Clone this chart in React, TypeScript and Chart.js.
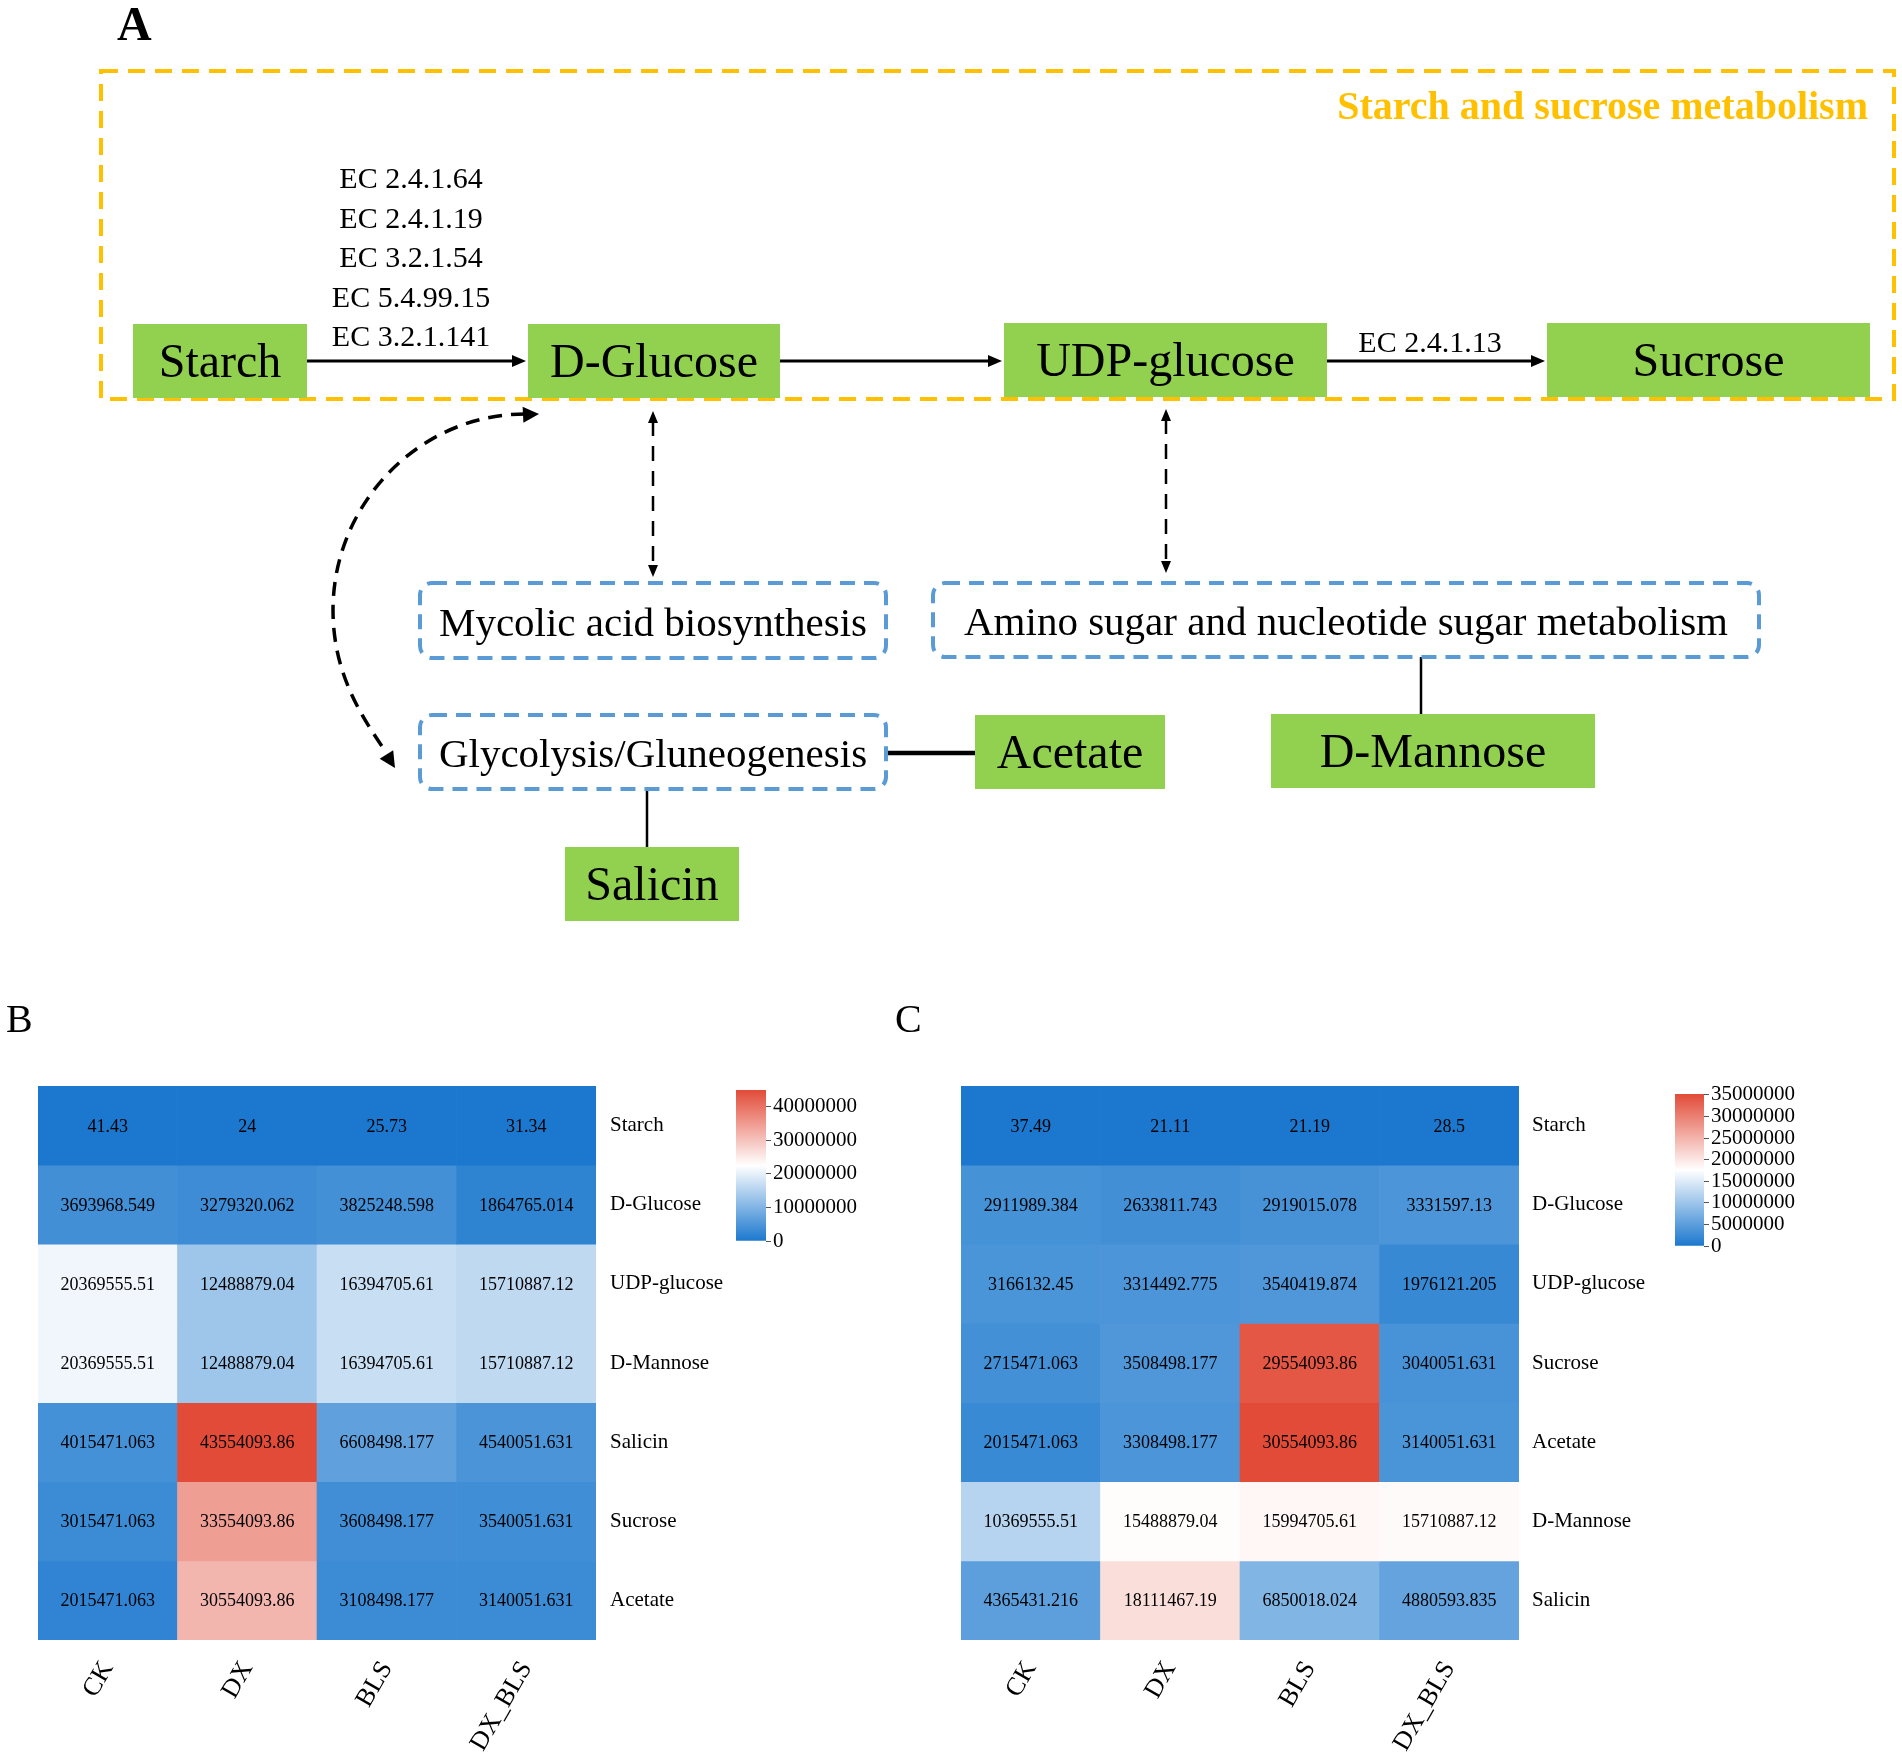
import React, { useEffect, useRef } from "react";
import { Chart, registerables } from "chart.js";

Chart.register(...registerables);

const SERIF = "'Liberation Serif', 'Times New Roman', serif";

// ---------------- Panel A: pathway content ----------------
const pathwayTitle = "Starch and sucrose metabolism";
const metabolites = ["Starch", "D-Glucose", "UDP-glucose", "Sucrose", "Acetate", "D-Mannose", "Salicin"];
const linkedPathways = [
  "Mycolic acid biosynthesis",
  "Amino sugar and nucleotide sugar metabolism",
  "Glycolysis/Gluneogenesis",
];
const starchToGlucoseEnzymes = ["EC 2.4.1.64", "EC 2.4.1.19", "EC 3.2.1.54", "EC 5.4.99.15", "EC 3.2.1.141"];
const udpToSucroseEnzymes = ["EC 2.4.1.13"];

// ---------------- Panels B and C: heatmap values ----------------
const groups = ["CK", "DX", "BLS", "DX_BLS"];

const rowsB = ["Starch", "D-Glucose", "UDP-glucose", "D-Mannose", "Salicin", "Sucrose", "Acetate"];
const starchB = [41.43, 24, 25.73, 31.34];
const glucoseB = [3693968.549, 3279320.062, 3825248.598, 1864765.014];
const udpGlucoseB = [20369555.51, 12488879.04, 16394705.61, 15710887.12];
const mannoseB = [20369555.51, 12488879.04, 16394705.61, 15710887.12];
const salicinB = [4015471.063, 43554093.86, 6608498.177, 4540051.631];
const sucroseB = [3015471.063, 33554093.86, 3608498.177, 3540051.631];
const acetateB = [2015471.063, 30554093.86, 3108498.177, 3140051.631];
const matrixB = [starchB, glucoseB, udpGlucoseB, mannoseB, salicinB, sucroseB, acetateB];

const rowsC = ["Starch", "D-Glucose", "UDP-glucose", "Sucrose", "Acetate", "D-Mannose", "Salicin"];
const starchC = [37.49, 21.11, 21.19, 28.5];
const glucoseC = [2911989.384, 2633811.743, 2919015.078, 3331597.13];
const udpGlucoseC = [3166132.45, 3314492.775, 3540419.874, 1976121.205];
const sucroseC = [2715471.063, 3508498.177, 29554093.86, 3040051.631];
const acetateC = [2015471.063, 3308498.177, 30554093.86, 3140051.631];
const mannoseC = [10369555.51, 15488879.04, 15994705.61, 15710887.12];
const salicinC = [4365431.216, 18111467.19, 6850018.024, 4880593.835];
const matrixC = [starchC, glucoseC, udpGlucoseC, sucroseC, acetateC, mannoseC, salicinC];

const legendTicksB = [0, 10000000, 20000000, 30000000, 40000000];
const legendTicksC = [0, 5000000, 10000000, 15000000, 20000000, 25000000, 30000000, 35000000];
const legendMaxB = 45000000;
const legendMaxC = 35200000;

// ---------------- styles / layout ----------------
const GREEN = "#92D050";
const ORANGE = "#FFC000";
const BLUE_BOX = "#5B9BD5";
const LOW = [27, 120, 206];
const MID = [255, 255, 255];
const HIGH = [226, 75, 56];

const PAGE_W = 1902;
const PAGE_H = 1759;
const A_H = 960;

const LAYOUT_A = {
  letter: { x: 117, y: 40 },
  frame: { x: 101, y: 71, w: 1793, h: 328 },
  title: { x: 1868, y: 119 },
  nodes: [
    [133, 324, 174, 74],
    [528, 324, 252, 74],
    [1004, 323, 323, 74],
    [1547, 323, 323, 74],
    [975, 715, 190, 74],
    [1271, 714, 324, 74],
    [565, 847, 174, 74],
  ],
  pathways: [
    [420, 583, 466, 75],
    [933, 583, 826, 74],
    [420, 715, 466, 74],
  ],
  ec1: { x: 411, y: 188, step: 39.5 },
  ec2: { x: 1430, y: 352 },
};

function mix(a: number[], b: number[], f: number) {
  return `rgb(${Math.round(a[0] + (b[0] - a[0]) * f)},${Math.round(a[1] + (b[1] - a[1]) * f)},${Math.round(
    a[2] + (b[2] - a[2]) * f
  )})`;
}
function heatColor(v: number, min: number, max: number) {
  const t = Math.max(0, Math.min(1, (v - min) / (max - min)));
  return t < 0.5 ? mix(LOW, MID, t / 0.5) : mix(MID, HIGH, (t - 0.5) / 0.5);
}

function arrowHead(ctx: CanvasRenderingContext2D, tx: number, ty: number, ang: number, len: number, half: number) {
  ctx.save();
  ctx.setLineDash([]);
  ctx.translate(tx, ty);
  ctx.rotate(ang);
  ctx.beginPath();
  ctx.moveTo(0, 0);
  ctx.lineTo(-len, -half);
  ctx.lineTo(-len, half);
  ctx.closePath();
  ctx.fill();
  ctx.restore();
}

function drawPathway(chart: any) {
  const { ctx } = chart;
  const sx = chart.scales.x;
  const sy = chart.scales.y;
  const X = (v: number) => sx.getPixelForValue(v);
  const Y = (v: number) => sy.getPixelForValue(v);
  const L = LAYOUT_A;
  ctx.save();

  // panel letter
  ctx.fillStyle = "#000";
  ctx.font = `bold 48px ${SERIF}`;
  ctx.textAlign = "left";
  ctx.textBaseline = "alphabetic";
  ctx.fillText("A", X(L.letter.x), Y(L.letter.y));

  // orange frame
  ctx.strokeStyle = ORANGE;
  ctx.lineWidth = 4;
  ctx.setLineDash([17, 10]);
  ctx.strokeRect(X(L.frame.x), Y(L.frame.y), X(L.frame.x + L.frame.w) - X(L.frame.x), Y(L.frame.y + L.frame.h) - Y(L.frame.y));
  ctx.setLineDash([]);
  ctx.fillStyle = ORANGE;
  ctx.font = `bold 40px ${SERIF}`;
  ctx.textAlign = "right";
  ctx.fillText(pathwayTitle, X(L.title.x), Y(L.title.y));

  // connections
  ctx.strokeStyle = "#000";
  ctx.fillStyle = "#000";
  const nb = L.nodes;
  const midY = (b: number[]) => b[1] + b[3] / 2;
  const solidArrow = (x0: number, x1: number, y: number) => {
    ctx.lineWidth = 3;
    ctx.setLineDash([]);
    ctx.beginPath();
    ctx.moveTo(X(x0), Y(y));
    ctx.lineTo(X(x1 - 10), Y(y));
    ctx.stroke();
    arrowHead(ctx, X(x1), Y(y), 0, 14, 6);
  };
  solidArrow(nb[0][0] + nb[0][2], nb[1][0] - 2, midY(nb[0]));
  solidArrow(nb[1][0] + nb[1][2], nb[2][0] - 2, midY(nb[1]));
  solidArrow(nb[2][0] + nb[2][2] - 2, nb[3][0] - 2, midY(nb[2]) + 1);

  // dashed double arrows
  const dashedDouble = (x: number, y0: number, y1: number) => {
    ctx.lineWidth = 2.5;
    ctx.setLineDash([15, 10]);
    ctx.beginPath();
    ctx.moveTo(X(x), Y(y0 + 10));
    ctx.lineTo(X(x), Y(y1 - 10));
    ctx.stroke();
    arrowHead(ctx, X(x), Y(y0), -Math.PI / 2, 12, 5);
    arrowHead(ctx, X(x), Y(y1), Math.PI / 2, 12, 5);
  };
  dashedDouble(653, 411, 577);
  dashedDouble(1166, 409, 573);

  // curved dashed arrow D-Glucose <-> Glycolysis
  ctx.lineWidth = 3.5;
  ctx.setLineDash([14, 9]);
  ctx.beginPath();
  ctx.moveTo(X(525), Y(414));
  ctx.bezierCurveTo(X(420), Y(414), X(333), Y(503), X(333), Y(610));
  ctx.bezierCurveTo(X(333), Y(670), X(358), Y(712), X(386), Y(752));
  ctx.stroke();
  arrowHead(ctx, X(539), Y(414), -0.05, 16, 8);
  arrowHead(ctx, X(395), Y(768), Math.atan2(60, 38), 16, 8);

  // solid links
  ctx.setLineDash([]);
  const pw = L.pathways;
  ctx.lineWidth = 4.5;
  ctx.beginPath();
  ctx.moveTo(X(pw[2][0] + pw[2][2]), Y(753));
  ctx.lineTo(X(nb[4][0]), Y(753));
  ctx.stroke();
  ctx.lineWidth = 2.5;
  ctx.beginPath();
  ctx.moveTo(X(647), Y(pw[2][1] + pw[2][3]));
  ctx.lineTo(X(647), Y(nb[6][1]));
  ctx.moveTo(X(1421), Y(pw[1][1] + pw[1][3]));
  ctx.lineTo(X(1421), Y(nb[5][1]));
  ctx.stroke();

  // linked pathway boxes (blue dashed)
  ctx.strokeStyle = BLUE_BOX;
  ctx.lineWidth = 4;
  ctx.setLineDash([15, 9]);
  linkedPathways.forEach((name, i) => {
    const b = pw[i];
    ctx.beginPath();
    (ctx as any).roundRect(X(b[0]), Y(b[1]), X(b[0] + b[2]) - X(b[0]), Y(b[1] + b[3]) - Y(b[1]), 12);
    ctx.stroke();
  });
  ctx.setLineDash([]);
  ctx.fillStyle = "#000";
  ctx.font = `41px ${SERIF}`;
  ctx.textAlign = "center";
  linkedPathways.forEach((name, i) => {
    const b = pw[i];
    ctx.fillText(name, X(b[0] + b[2] / 2), Y(b[1] + b[3] / 2 + 15));
  });

  // metabolite boxes
  metabolites.forEach((name, i) => {
    const b = nb[i];
    ctx.fillStyle = GREEN;
    ctx.fillRect(X(b[0]), Y(b[1]), X(b[0] + b[2]) - X(b[0]), Y(b[1] + b[3]) - Y(b[1]));
    ctx.fillStyle = "#000";
    ctx.font = `48px ${SERIF}`;
    ctx.fillText(name, X(b[0] + b[2] / 2), Y(b[1] + b[3] / 2 + 16));
  });

  // enzyme labels
  ctx.font = `30px ${SERIF}`;
  starchToGlucoseEnzymes.forEach((ec, i) => {
    ctx.fillText(ec, X(L.ec1.x), Y(L.ec1.y + i * L.ec1.step));
  });
  udpToSucroseEnzymes.forEach((ec) => ctx.fillText(ec, X(L.ec2.x), Y(L.ec2.y)));

  ctx.restore();
}

function pathwayConfig(): any {
  return {
    type: "scatter",
    data: { datasets: [] },
    options: {
      responsive: false,
      animation: false,
      devicePixelRatio: 1,
      events: [],
      layout: { padding: 0 },
      plugins: { legend: { display: false }, tooltip: { enabled: false } },
      scales: {
        x: { type: "linear", min: 0, max: PAGE_W, display: false },
        y: { type: "linear", min: 0, max: A_H, reverse: true, display: false },
      },
    },
    plugins: [{ id: "pathway", afterDraw: drawPathway }],
  };
}

const HM = {
  cellFont: 18,
  rowFont: 21,
  colFont: 26,
  yAxisW: 140,
  xAxisH: 115,
};

function heatmapConfig(rows: string[], matrix: number[][], letter: string, pad: { left: number; top: number }, letterX: number, rowPad: number): any {
  const flat = matrix.flat();
  const min = Math.min(...flat);
  const max = Math.max(...flat);
  return {
    type: "bar",
    data: {
      labels: groups,
      datasets: rows.map((r, i) => ({
        label: r,
        data: groups.map(() => [i, i + 1]),
        backgroundColor: matrix[i].map((v) => heatColor(v, min, max)),
        borderWidth: 0,
        borderSkipped: false,
        barPercentage: 1,
        categoryPercentage: 1,
        grouped: false,
      })),
    },
    options: {
      responsive: false,
      animation: false,
      devicePixelRatio: 1,
      events: [],
      layout: { padding: { left: pad.left, top: pad.top, right: 0, bottom: 0 } },
      plugins: { legend: { display: false }, tooltip: { enabled: false } },
      scales: {
        x: {
          type: "category",
          position: "bottom",
          grid: { display: false, drawTicks: false },
          border: { display: false },
          ticks: {
            font: { family: SERIF, size: HM.colFont },
            color: "#000",
            minRotation: 60,
            maxRotation: 60,
            padding: 16,
            autoSkip: false,
          },
          afterFit: (s: any) => {
            s.height = HM.xAxisH;
            s.paddingLeft = 0;
            s.paddingRight = 0;
          },
        },
        y: {
          type: "linear",
          position: "right",
          min: 0,
          max: rows.length,
          reverse: true,
          grid: { display: false, drawTicks: false },
          border: { display: false },
          ticks: {
            font: { family: SERIF, size: HM.rowFont },
            color: "#000",
            padding: rowPad,
            autoSkip: false,
            callback: (_v: any, i: number) => rows[i],
          },
          afterBuildTicks: (s: any) => {
            s.ticks = rows.map((_, i) => ({ value: i + 0.5 }));
          },
          afterFit: (s: any) => {
            s.width = HM.yAxisW;
            s.paddingTop = 0;
            s.paddingBottom = 0;
          },
        },
      },
    },
    plugins: [
      {
        id: "cellText",
        afterDatasetsDraw: (chart: any) => {
          const { ctx } = chart;
          const sx = chart.scales.x;
          const sy = chart.scales.y;
          ctx.save();
          ctx.fillStyle = "#000";
          ctx.font = `${HM.cellFont}px ${SERIF}`;
          ctx.textAlign = "center";
          ctx.textBaseline = "alphabetic";
          matrix.forEach((row, i) =>
            row.forEach((v, j) => {
              ctx.fillText(String(v), sx.getPixelForValue(j), sy.getPixelForValue(i + 0.5) + 6);
            })
          );
          ctx.restore();
        },
      },
      {
        id: "panelLetter",
        afterDraw: (chart: any) => {
          const { ctx } = chart;
          ctx.save();
          ctx.fillStyle = "#000";
          ctx.font = `40px ${SERIF}`;
          ctx.textAlign = "left";
          ctx.textBaseline = "alphabetic";
          ctx.fillText(letter, letterX, 42);
          ctx.restore();
        },
      },
    ],
  };
}

function legendConfig(ticks: number[], maxV: number): any {
  return {
    type: "bar",
    data: {
      labels: ["scale"],
      datasets: [
        {
          data: [[0, maxV]],
          backgroundColor: (c: any) => {
            const chart = c.chart;
            const { ctx, chartArea } = chart;
            if (!chartArea) return "#fff";
            const sy = chart.scales.y;
            const y0 = sy.getPixelForValue(0);
            const y1 = sy.getPixelForValue(maxV);
            const g = ctx.createLinearGradient(0, y0, 0, y1);
            g.addColorStop(0, mix(LOW, LOW, 0));
            g.addColorStop(0.5, mix(MID, MID, 0));
            g.addColorStop(1, mix(HIGH, HIGH, 0));
            return g;
          },
          borderWidth: 0,
          barPercentage: 1,
          categoryPercentage: 1,
        },
      ],
    },
    options: {
      responsive: false,
      animation: false,
      devicePixelRatio: 1,
      events: [],
      layout: { padding: { top: 20, bottom: 20, left: 0, right: 0 } },
      plugins: { legend: { display: false }, tooltip: { enabled: false } },
      scales: {
        x: { display: false },
        y: {
          type: "linear",
          position: "right",
          min: 0,
          max: maxV,
          grid: { display: true, drawOnChartArea: false, drawTicks: true, tickLength: 5, color: "#555", lineWidth: 1 },
          border: { display: false },
          ticks: {
            font: { family: SERIF, size: 21 },
            color: "#000",
            padding: 2,
            autoSkip: false,
            callback: (v: any) => String(v),
          },
          afterBuildTicks: (s: any) => {
            s.ticks = ticks.map((v) => ({ value: v }));
          },
          afterFit: (s: any) => {
            s.width = 130;
            s.paddingTop = 0;
            s.paddingBottom = 0;
          },
        },
      },
    },
  };
}

function ChartCanvas(props: { left: number; top: number; width: number; height: number; make: () => any }) {
  const ref = useRef<HTMLCanvasElement | null>(null);
  useEffect(() => {
    if (!ref.current) return;
    const chart = new Chart(ref.current, props.make());
    return () => chart.destroy();
  }, []);
  return (
    <canvas
      ref={ref}
      width={props.width}
      height={props.height}
      style={{ position: "absolute", left: props.left, top: props.top, width: props.width, height: props.height }}
    />
  );
}

export default function App() {
  return (
    <div
      style={{
        position: "absolute",
        left: 0,
        top: 0,
        width: PAGE_W,
        height: PAGE_H,
        overflow: "hidden",
        background: "#fff",
      }}
    >
      <ChartCanvas left={0} top={0} width={PAGE_W} height={A_H} make={pathwayConfig} />
      <ChartCanvas
        left={0}
        top={990}
        width={38 + 558 + HM.yAxisW}
        height={96 + 554 + HM.xAxisH}
        make={() => heatmapConfig(rowsB, matrixB, "B", { left: 38, top: 96 }, 6, 14)}
      />
      <ChartCanvas left={736} top={1070} width={30 + 130} height={191} make={() => legendConfig(legendTicksB, legendMaxB)} />
      <ChartCanvas
        left={880}
        top={990}
        width={81 + 558 + HM.yAxisW}
        height={96 + 554 + HM.xAxisH}
        make={() => heatmapConfig(rowsC, matrixC, "C", { left: 81, top: 96 }, 15, 13)}
      />
      <ChartCanvas left={1675} top={1074} width={29 + 130} height={192} make={() => legendConfig(legendTicksC, legendMaxC)} />
    </div>
  );
}
